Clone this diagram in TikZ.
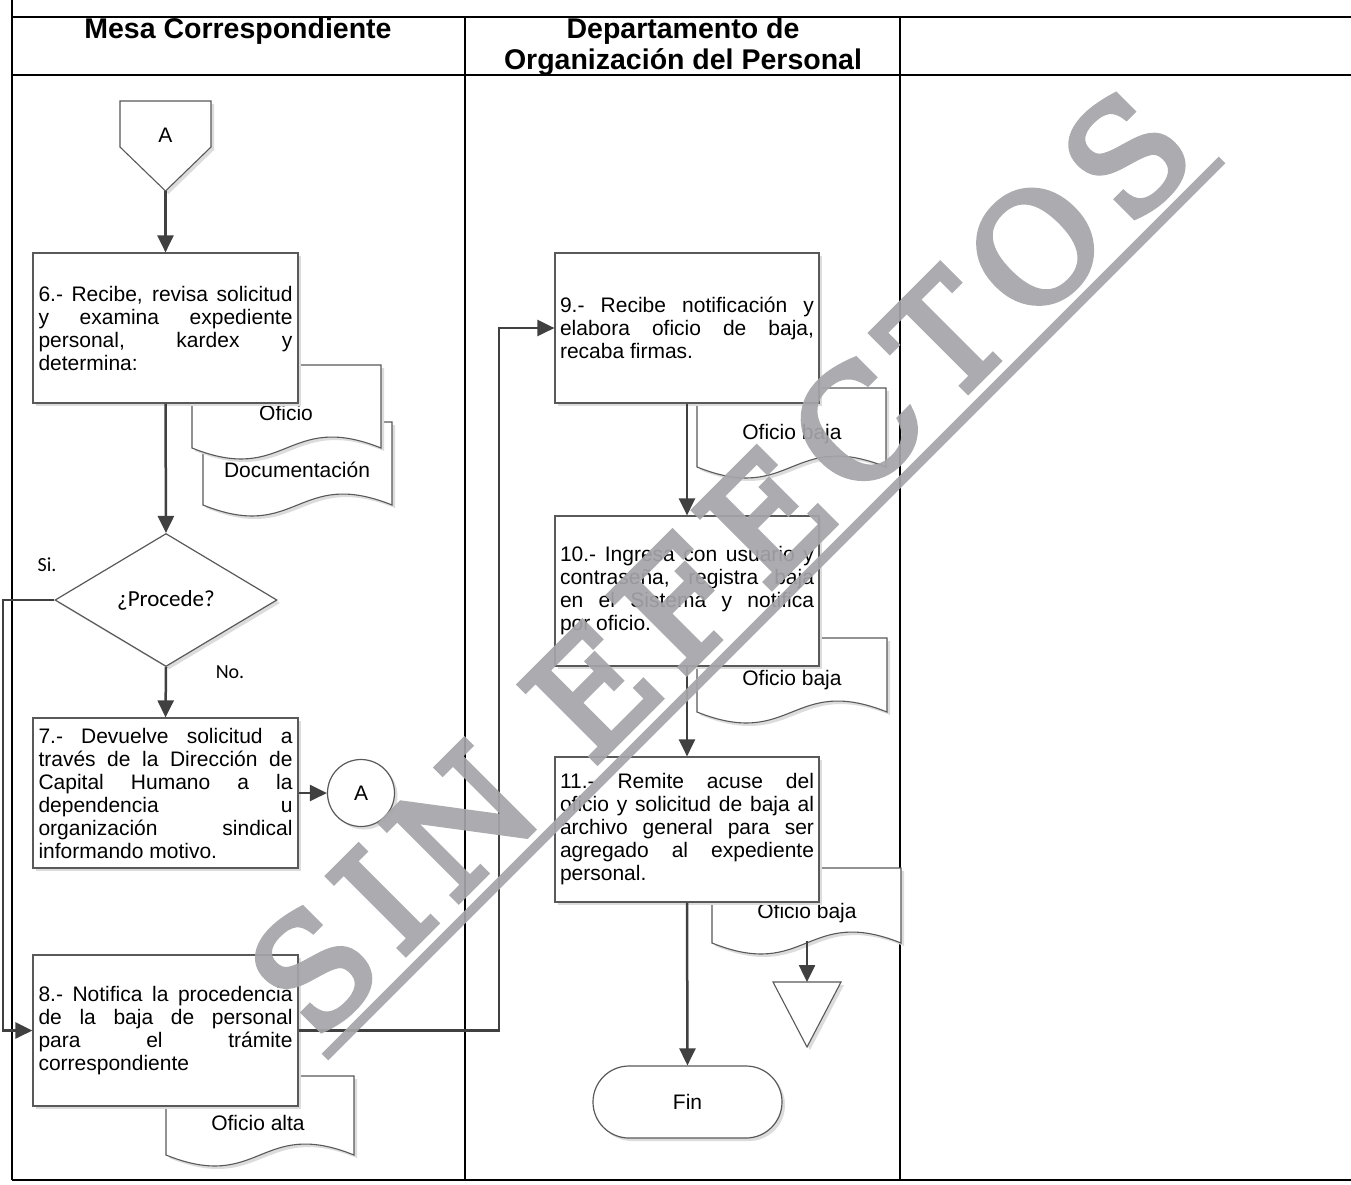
\documentclass[tikz,border=0pt]{standalone}
\usepackage{fontspec}
\setmainfont{Liberation Sans}
\newfontfamily\calfont{Carlito}
\newfontfamily\wmfont[LetterSpace=11,FakeBold=4]{DejaVu Serif}
\usetikzlibrary{arrows.meta,shapes.geometric,shadows}

\definecolor{boxline}{HTML}{595959}
\definecolor{flowgray}{HTML}{404040}
\definecolor{wmgray}{HTML}{A6A6AA}
\definecolor{shade}{HTML}{DCDCDC}

\newcommand\bodyfont{\fontsize{21}{23}\selectfont}
\newcommand\jl[1]{\makebox[254pt][s]{#1}}
% document symbol with a wavy lower edge: x1, top, x2, bottom
\newcommand\docshape[4]{%
  \path[docst] (#1,#4) -- (#1,#2) -- (#3,#2) -- (#3,#4)
    .. controls ({(#1+#3)/2},{#4-38}) and ({(#1+#3)/2},{#4+38}) .. (#1,#4) -- cycle;}

\begin{document}
\begin{tikzpicture}[x=1pt,y=-1pt,
  lane/.style={line width=2.5pt,black},
  sh/.style={drop shadow={shadow xshift=3pt,shadow yshift=-3pt,fill=shade,opacity=1}},
  proc/.style={draw=boxline,line width=1.2pt,fill=white,sh,inner sep=0pt,
    minimum width=265pt,minimum height=150pt,align=left,font=\bodyfont},
  docst/.style={draw=boxline,line width=1.1pt,fill=white,sh},
  doctext/.style={font=\bodyfont,inner sep=0pt},
  decst/.style={diamond,draw=boxline,line width=1.2pt,fill=white,sh,inner sep=0pt,
    minimum width=222pt,minimum height=133pt,font=\calfont\fontsize{23}{26}\selectfont},
  conn/.style={circle,draw=boxline,line width=1.2pt,fill=white,sh,minimum size=67pt,
    inner sep=0pt,font=\bodyfont},
  term/.style={draw=boxline,line width=1.2pt,fill=white,sh,rounded corners=36pt,
    minimum width=189pt,minimum height=72pt,font=\bodyfont},
  flow/.style={draw=flowgray,line width=2.5pt,-{Triangle[length=17pt,width=16pt]}},
  lbl/.style={font=\calfont\fontsize{20}{22}\selectfont,inner sep=0pt},
  head/.style={font=\bfseries\fontsize{28.5}{31}\selectfont,inner sep=0pt,anchor=base},
  wm/.style={wmgray}
]
\useasboundingbox (0,0) rectangle (1351,1184);
\fill[white] (0,0) rectangle (1351,1184);

% swimlane frame
\draw[lane] (12,0) -- (12,1180);
\draw[lane] (465,17) -- (465,1180);
\draw[lane] (900,17) -- (900,1180);
\draw[lane] (12,17) -- (1351,17);
\draw[lane] (12,75) -- (1351,75);
\draw[lane] (12,1180) -- (1351,1180);

% lane titles
\node[head] (h1) at (238,38) {Mesa Correspondiente};
\node[head] (h2a) at (683,38) {Departamento de};
\node[head] (h2b) at (683,69) {Organización del Personal};

% documents (drawn first so that the process boxes sit on top)
\docshape{203}{422}{392}{505}
\node[doctext] (dDoc) at (297,470) {Documentación};
\docshape{192}{365}{381}{448}
\node[doctext] (dOf) at (286,413) {Oficio};
\docshape{166}{1076}{354}{1155}
\node[doctext] (dAlta) at (258,1123) {Oficio alta};
\docshape{697}{388}{886}{467}
\node[doctext] (dB1) at (792,434) {Oficio baja};
\docshape{697}{638}{887}{712}
\node[doctext] (dB2) at (792,680) {Oficio baja};
\docshape{712}{868}{901}{943}
\node[doctext] (dB3) at (807,913) {Oficio baja};
\coordinate (dB3b) at (807,941);

% off-page connector
\path[docst] (120,101) -- (211,101) -- (211,147) -- (165.5,191) -- (120,147) -- cycle;
\node[doctext] (offA) at (165.5,135) {A};
\coordinate (offAtip) at (165.5,191);

% archive triangle
\path[docst] (773,982) -- (841,982) -- (807,1047) -- cycle;
\coordinate (arch) at (807,982);

% process steps
\node[proc] (b6) at (165.5,328) {\jl{6.- Recibe, revisa solicitud}\\ \jl{y examina expediente}\\ \jl{personal, kardex y}\\ determina:};
\node[decst] (dec) at (166,600) {¿Procede?};
\node[proc] (b7) at (165.5,793) {\jl{7.- Devuelve solicitud a}\\ \jl{través de la Dirección de}\\ \jl{Capital Humano a la}\\ \jl{dependencia u}\\ \jl{organización sindical}\\ informando motivo.};
\node[conn] (cA) at (361,793) {A};
\node[proc,minimum height=151pt] (b8) at (165.5,1030.5) {\jl{8.- Notifica la procedencia}\\ \jl{de la baja de personal}\\ \jl{para el trámite}\\ correspondiente};
\node[proc,minimum width=264pt] (b9) at (687,328) {\jl{9.- Recibe notificación y}\\ \jl{elabora oficio de baja,}\\ recaba firmas.};
\node[proc,minimum width=264pt] (b10) at (687,591) {\jl{10.- Ingresa con usuario y}\\ \jl{contraseña, registra baja}\\ \jl{en el Sistema y notifica}\\ por oficio.};
\node[proc,minimum width=264pt,minimum height=145pt] (b11) at (687,829.5) {\jl{11.- Remite acuse del}\\ \jl{oficio y solicitud de baja al}\\ \jl{archivo general para ser}\\ \jl{agregado al expediente}\\ personal.};
\node[term] (fin) at (687.5,1102) {Fin};

% branch labels
\node[lbl] (si) at (47,565) {Si.};
\node[lbl] (no) at (230,672) {No.};

% connectors
\coordinate (siL) at (3,600);
\coordinate (jog) at (499,328);
\draw[flow] (offAtip) -- (b6.north);
\draw[flow] (b6.south) -- (dec.north);
\draw[flow] (dec.south) -- (b7.north);
\draw[flow] (b7.east) -- (cA.west);
\draw[flow] (dec.west) -- (siL) |- (b8.west);
\draw[flow] (b8.east) -| (jog) -- (b9.west);
\draw[flow] (b9.south) -- (b10.north);
\draw[flow] (b10.south) -- (b11.north);
\draw[flow] (b11.south) -- (fin.north);
\draw[flow] (dB3b) -- (arch);

% watermark, translucent as a whole
\begin{scope}[transparency group,opacity=0.92]
\node[wm,rotate=45,inner sep=0pt,font=\wmfont\fontsize{150}{150}\selectfont] (wmtext) at (720,562) {SIN EFECTOS};
\coordinate (wmA) at (325,1057);
\coordinate (wmB) at (1222,160);
\draw[wm,line width=9.5pt] (wmA) -- (wmB);
\end{scope}
\end{tikzpicture}
\end{document}
